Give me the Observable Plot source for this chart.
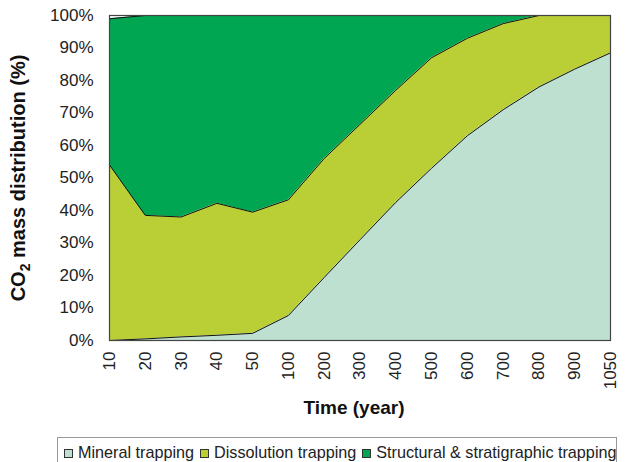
<!DOCTYPE html>
<html><head><meta charset="utf-8">
<script src="https://cdn.jsdelivr.net/npm/d3@7"></script>
<script src="https://cdn.jsdelivr.net/npm/@observablehq/plot@0.6"></script>
<style>
body{margin:0;background:#fff;font-family:"Liberation Sans",Arial,sans-serif;}
#chart{position:relative;width:630px;height:462px;overflow:hidden}
svg{display:block}
svg text{font-family:"Liberation Sans",Arial,sans-serif;}
g[aria-label="y-axis tick label"] text{font-size:17px;fill:#222}
g[aria-label="x-axis tick label"] text{font-size:17px;fill:#222}
g[aria-label="x-axis label"] text{font-size:19px;font-weight:bold;fill:#111}
g[aria-label="y-axis label"] text{font-size:20px;font-weight:bold;fill:#111}
.legend{position:absolute;left:57px;top:437px;width:560px;height:30px;border:1px solid #999;box-sizing:border-box;padding:5px 0 0 6px;font-size:16.2px;color:#222;white-space:nowrap;line-height:18px}
.legend span.item{margin-right:6px}
.legend i{display:inline-block;width:7px;height:7px;border:1px solid #333;margin-right:5px;vertical-align:0px}
</style>
</head><body>
<div id="chart"></div>
<script>
const times = ["10","20","30","40","50","100","200","300","400","500","600","700","800","900","1050"];
const mineral =      [0, 0.5, 1.1, 1.6, 2.2, 7.7, 19.4, 31, 42.5, 53, 63, 71, 78, 83.5, 88.5];
const dissolution =  [54, 38, 36.9, 40.6, 37.3, 35.6, 36.6, 35.5, 34.5, 34, 30, 26.5, 22, 16.5, 11.5];
const structural =   [45, 61.5, 62, 57.8, 60.5, 56.7, 44, 33.5, 23, 13, 7, 2.5, 0, 0, 0];
const seriesNames = ["Mineral trapping", "Dissolution trapping", "Structural & stratigraphic trapping"];
const seriesColors = ["#bde0d0", "#b9cf35", "#00a651"];
const yTicks = [0,10,20,30,40,50,60,70,80,90,100];

const seriesValues = [mineral, dissolution, structural];
const rows = seriesNames.flatMap((s, i) => times.map((t, j) => ({time: t, series: s, value: seriesValues[i][j]})));

const chart = Plot.plot({
  width: 630,
  height: 436,
  marginLeft: 109,
  marginRight: 20,
  marginTop: 15,
  marginBottom: 96,
  style: {fontFamily: "Liberation Sans, Arial, sans-serif", fontSize: "17px", background: "#fff"},
  x: {type: "point", domain: times, padding: 0, round: false},
  y: {domain: [0, 100]},
  color: {domain: seriesNames, range: seriesColors},
  marks: [
    Plot.areaY(rows, {x: "time", y: "value", z: "series", fill: "series", order: seriesNames}),
    Plot.lineY(rows, Plot.stackY2({x: "time", y: "value", z: "series", order: seriesNames, stroke: "#111", strokeWidth: 1})),
    Plot.frame({stroke: "#444", strokeWidth: 1.2}),
    Plot.axisY({ticks: yTicks, tickFormat: d => d + "%", tickSize: 0, tickPadding: 16, label: "CO2 mass distribution (%)", labelAnchor: "center", labelOffset: 98.5, labelArrow: "none"}),
    Plot.axisX({tickSize: 0, tickPadding: 11, tickRotate: -90, label: "Time (year)", labelAnchor: "center", labelOffset: 73, labelArrow: "none"})
  ]
});
document.getElementById("chart").appendChild(chart);

// x label slightly left of the plot centre, as in the original
const xl = chart.querySelector('g[aria-label="x-axis label"] text');
if (xl) xl.setAttribute("dx", "-6");

// subscript 2 in the y label
const yl = chart.querySelector('g[aria-label="y-axis label"] text');
if (yl) {
  yl.textContent = "";
  const t1 = document.createElementNS("http://www.w3.org/2000/svg", "tspan"); t1.textContent = "CO";
  const t2 = document.createElementNS("http://www.w3.org/2000/svg", "tspan"); t2.textContent = "2";
  t2.setAttribute("font-size", "14px"); t2.setAttribute("dy", "0.35em");
  const t3 = document.createElementNS("http://www.w3.org/2000/svg", "tspan"); t3.textContent = " mass distribution (%)";
  t3.setAttribute("dy", "-0.25em");
  yl.append(t1, t2, t3);
}

const legend = document.createElement("div");
legend.className = "legend";
seriesNames.forEach((s, i) => {
  const item = document.createElement("span");
  item.className = "item";
  const sw = document.createElement("i");
  sw.style.background = seriesColors[i];
  item.appendChild(sw);
  item.appendChild(document.createTextNode(s));
  legend.appendChild(item);
});
document.getElementById("chart").appendChild(legend);
</script>
</body></html>
